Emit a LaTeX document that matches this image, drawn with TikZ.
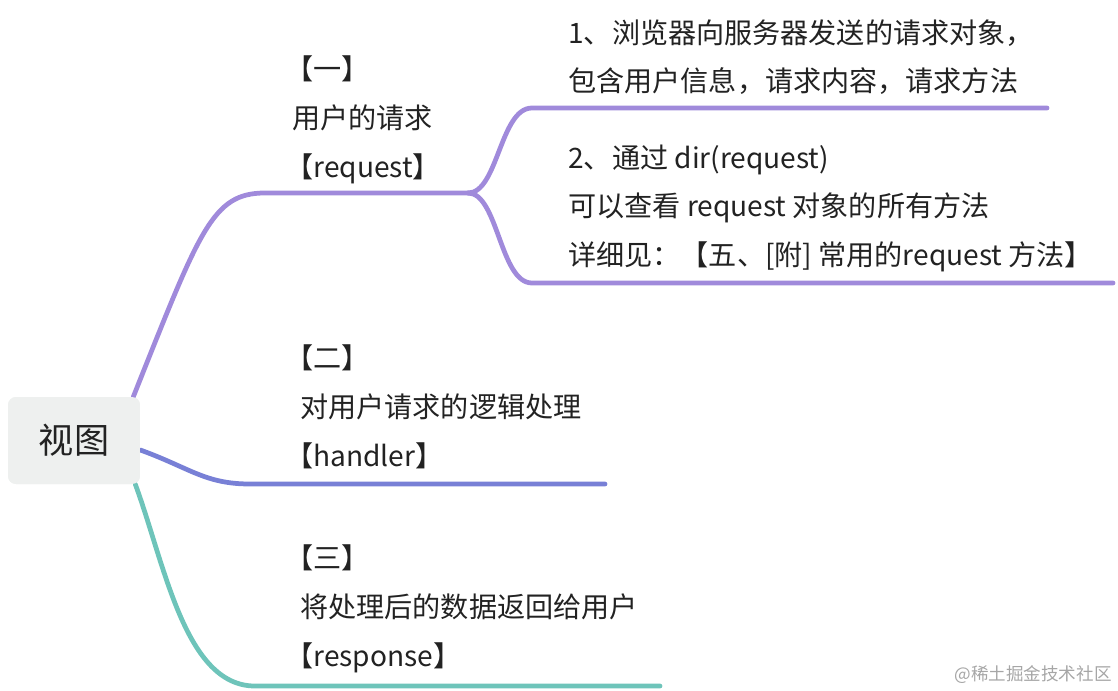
\documentclass[tikz,border=0pt]{standalone}
\usepackage{fontspec}
\setmainfont{Noto Sans CJK SC}
\usetikzlibrary{positioning,calc}

\definecolor{lilac}{HTML}{A08ADB}
\definecolor{periwinkle}{HTML}{7880D6}
\definecolor{mint}{HTML}{6EC4BA}
\definecolor{rootgray}{HTML}{EEF0EF}
\definecolor{ink}{HTML}{222222}

\tikzset{
  branch/.style={line width=2.7pt, line cap=round},
  txt/.style={anchor=base west, inner sep=0pt, text=ink, font=\fontsize{16}{19}\selectfont},
  root/.style={fill=rootgray, rounded corners=0.16cm, minimum width=2.64cm, minimum height=1.74cm,
    text=ink, font=\fontsize{20}{24}\selectfont},
  watermark/.style={anchor=base east, inner sep=0pt, text=black!35, font=\fontsize{10}{12}\selectfont},
}

\begin{document}
\begin{tikzpicture}[x=0.02cm, y=-0.02cm]
    \useasboundingbox (0,0) rectangle (1118,690);

    % central topic
    \node[root] (view) at (74,440.5) {视图};

    % branch ends
    \coordinate (split) at (468,193);
    \coordinate (e1a) at (1047,108);
    \coordinate (e1b) at (1113,283);
    \coordinate (e2) at (605,484);
    \coordinate (e3) at (660,686);

    % request
    \draw[branch, lilac] ([xshift=-0.14cm]view.north east) .. controls (200,230) and (212,193) .. (265,193) -- (split);
    \draw[branch, lilac] (split) .. controls (498,193) and (500,108) .. (532,108) -- (e1a);
    \draw[branch, lilac] (split) .. controls (498,193) and (500,283) .. (532,283) -- (e1b);
    % handler
    \draw[branch, periwinkle] ([yshift=-0.19cm]view.east) .. controls (190,468) and (205,484) .. (250,484) -- (e2);
    % response
    \draw[branch, mint] ([xshift=-0.1cm]view.south east) .. controls (165,565) and (185,686) .. (255,686) -- (e3);

    \node[root] at (view) {视图};

    % texts
    \node[txt] (r1) at (285,79) {【一】};
    \node[txt] (r2) at (292,128) {用户的请求};
    \node[txt] (r3) at (285,177) {【request】};

    \node[txt] (s1) at (568,43) {1、浏览器向服务器发送的请求对象，};
    \node[txt] (s2) at (568,91) {包含用户信息，请求内容，请求方法};
    \node[txt] (s3) at (568,168) {2、通过 dir(request)};
    \node[txt] (s4) at (568,216) {可以查看 request 对象的所有方法};
    \node[txt] (s5) at (568,265) {详细见：【五、[附] 常用的request 方法】};

    \node[txt] (h1) at (285,368) {【二】};
    \node[txt] (h2) at (300,417) {对用户请求的逻辑处理};
    \node[txt] (h3) at (285,466) {【handler】};

    \node[txt] (p1) at (285,568) {【三】};
    \node[txt] (p2) at (300,617) {将处理后的数据返回给用户};
    \node[txt] (p3) at (285,666) {【response】};

    \node[watermark] (wm) at (1112,680) {@稀土掘金技术社区};
\end{tikzpicture}
\end{document}
